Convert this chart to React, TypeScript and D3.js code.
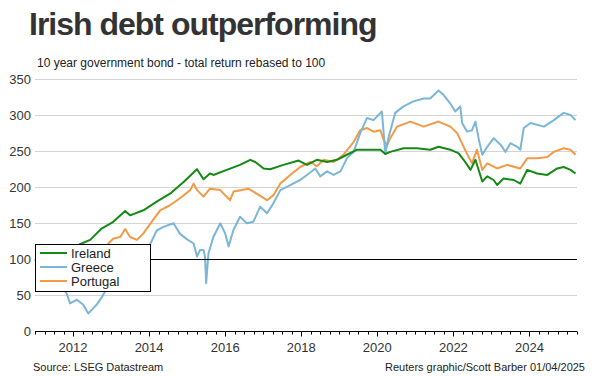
import React from "react";
import * as d3 from "d3";

// ---- Data (decimal years, total return index rebased to 100) ----
const irelandYears = [2011.0, 2011.2, 2011.45, 2011.55, 2011.75, 2011.95, 2012.18, 2012.45, 2012.76, 2013.06, 2013.37, 2013.5, 2013.85, 2014.2, 2014.55, 2014.9, 2015.26, 2015.43, 2015.6, 2015.69, 2016.04, 2016.39, 2016.66, 2016.79, 2017.01, 2017.18, 2017.53, 2017.93, 2018.15, 2018.41, 2018.68, 2018.94, 2019.2, 2019.47, 2019.73, 2020.08, 2020.21, 2020.34, 2020.69, 2021.04, 2021.39, 2021.61, 2021.92, 2022.14, 2022.27, 2022.45, 2022.58, 2022.76, 2022.89, 2023.06, 2023.15, 2023.32, 2023.59, 2023.76, 2023.94, 2024.2, 2024.47, 2024.73, 2024.9, 2025.08, 2025.21];
const irelandValues = [100, 95, 86, 84, 96, 108, 121, 127, 143, 152, 167, 161, 168, 180, 191, 207, 225, 211, 219, 217, 224, 231, 238, 235, 226, 225, 231, 237, 231, 238, 235, 238, 245, 252, 252, 252, 246, 249, 254, 254, 252, 256, 252, 247, 238, 224, 238, 208, 215, 210, 203, 212, 210, 205, 224, 219, 217, 226, 228, 224, 219];

const greeceYears = [2011.0, 2011.2, 2011.4, 2011.6, 2011.75, 2011.83, 2011.92, 2012.1, 2012.27, 2012.4, 2012.49, 2012.62, 2012.76, 2012.84, 2013.1, 2013.4, 2013.7, 2014.0, 2014.2, 2014.38, 2014.64, 2014.82, 2014.99, 2015.17, 2015.26, 2015.34, 2015.43, 2015.47, 2015.5, 2015.56, 2015.69, 2015.87, 2016.0, 2016.09, 2016.22, 2016.39, 2016.57, 2016.74, 2016.92, 2017.1, 2017.27, 2017.45, 2017.71, 2017.97, 2018.15, 2018.37, 2018.5, 2018.68, 2018.85, 2019.03, 2019.2, 2019.38, 2019.55, 2019.73, 2019.9, 2020.12, 2020.21, 2020.3, 2020.47, 2020.69, 2020.95, 2021.22, 2021.39, 2021.61, 2021.74, 2021.92, 2022.05, 2022.18, 2022.23, 2022.36, 2022.49, 2022.58, 2022.67, 2022.76, 2022.89, 2023.06, 2023.24, 2023.37, 2023.5, 2023.68, 2023.76, 2023.85, 2024.03, 2024.38, 2024.64, 2024.9, 2025.08, 2025.21];
const greeceValues = [100, 92, 80, 70, 60, 53, 39, 44, 37, 25, 30, 37, 48, 55, 75, 95, 108, 118, 140, 145, 150, 135, 128, 122, 104, 113, 113, 104, 67, 108, 131, 150, 136, 118, 141, 159, 150, 152, 173, 164, 178, 196, 203, 210, 217, 226, 215, 222, 217, 222, 240, 249, 275, 296, 293, 305, 247, 270, 303, 312, 319, 323, 323, 334, 328, 316, 305, 312, 289, 277, 279, 291, 266, 245, 256, 268, 259, 249, 261, 256, 252, 282, 289, 284, 293, 303, 300, 293];

const portugalYears = [2011.0, 2011.25, 2011.5, 2011.75, 2012.0, 2012.25, 2012.5, 2012.75, 2012.93, 2013.06, 2013.24, 2013.37, 2013.5, 2013.68, 2013.85, 2014.11, 2014.29, 2014.55, 2014.82, 2015.08, 2015.17, 2015.26, 2015.43, 2015.6, 2015.87, 2016.13, 2016.22, 2016.61, 2016.74, 2017.1, 2017.27, 2017.45, 2017.71, 2017.97, 2018.24, 2018.41, 2018.59, 2018.85, 2019.11, 2019.38, 2019.55, 2019.73, 2019.9, 2020.08, 2020.17, 2020.26, 2020.34, 2020.52, 2020.87, 2021.22, 2021.61, 2021.92, 2022.1, 2022.27, 2022.4, 2022.49, 2022.62, 2022.76, 2022.89, 2023.15, 2023.41, 2023.76, 2023.94, 2024.2, 2024.47, 2024.64, 2024.9, 2025.08, 2025.21];
const portugalValues = [100, 95, 84, 74, 66, 74, 88, 104, 122, 129, 131, 142, 131, 127, 136, 155, 168, 175, 185, 196, 205, 196, 187, 198, 196, 182, 194, 198, 194, 182, 189, 205, 217, 228, 235, 229, 238, 235, 245, 263, 279, 282, 277, 279, 265, 258, 268, 284, 291, 284, 291, 284, 275, 256, 242, 233, 252, 224, 233, 226, 231, 226, 240, 240, 242, 249, 254, 252, 245];

const seriesNames = ["Ireland", "Greece", "Portugal"];
const seriesColors = ["#148a14", "#7bb6d6", "#f39a47"];
const yTicks = [0, 50, 100, 150, 200, 250, 300, 350];
const xLabelYears = [2012, 2014, 2016, 2018, 2020, 2022, 2024];

const title = "Irish debt outperforming";
const subtitle = "10 year government bond - total return rebased to 100";
const sourceText = "Source: LSEG Datastream";
const creditText = "Reuters graphic/Scott Barber 01/04/2025";

export default function App() {
  const W = 600, H = 376;
  const left = 35, right = 577, top = 79, bottom = 331.5;
  const x = d3.scaleLinear().domain([2011, 2025.25]).range([left, right]);
  const y = d3.scaleLinear().domain([0, 350]).range([bottom, top]);

  const series = [
    { name: seriesNames[0], color: seriesColors[0], years: irelandYears, values: irelandValues },
    { name: seriesNames[1], color: seriesColors[1], years: greeceYears, values: greeceValues },
    { name: seriesNames[2], color: seriesColors[2], years: portugalYears, values: portugalValues },
  ];
  const line = d3.line<[number, number]>().x((d) => x(d[0])).y((d) => y(d[1]));

  const quarterTicks = d3.range(2011, 2025.26, 0.25);
  const drawOrder = [2, 1, 0];
  const font = "'Liberation Sans', Arial, sans-serif";

  return (
    <svg width={W} height={H} style={{ position: "absolute", left: 0, top: 0, background: "#fff" }} fontFamily={font}>
      <rect width={W} height={H} fill="#fff" />
      <text x={29} y={35} fontSize={32} fontWeight="bold" fill="#333" letterSpacing={-1}>{title}</text>
      <text x={37} y={67} fontSize={12} fill="#222">{subtitle}</text>

      {yTicks.filter((t) => t !== 0 && t !== 100).map((t) => (
        <line key={"g" + t} x1={left} x2={right} y1={Math.round(y(t)) + 0.5} y2={Math.round(y(t)) + 0.5} stroke="#d4d4d4" strokeWidth={1} />
      ))}
      {yTicks.map((t) => (
        <text key={"yl" + t} x={31} y={y(t)} dy="0.35em" textAnchor="end" fontSize={13} fill="#333">{t}</text>
      ))}

      {drawOrder.map((i) => {
        const s = series[i];
        const pts = s.years.map((yr, j) => [yr, s.values[j]] as [number, number]);
        return <path key={s.name} d={line(pts) || ""} fill="none" stroke={s.color} strokeWidth={2} strokeLinejoin="round" />;
      })}

      <line x1={left} x2={right} y1={Math.round(y(100)) + 0.5} y2={Math.round(y(100)) + 0.5} stroke="#000" strokeWidth={1} />

      {/* x axis */}
      <line x1={left} x2={right} y1={bottom} y2={bottom} stroke="#000" strokeWidth={1} />
      {quarterTicks.map((q) => {
        const major = xLabelYears.includes(q);
        const px = Math.round(x(q)) + 0.5;
        return <line key={"t" + q} x1={px} x2={px} y1={bottom} y2={bottom + (major ? 5 : 3)} stroke="#000" strokeWidth={1} />;
      })}
      {xLabelYears.map((yr) => (
        <text key={"xl" + yr} x={x(yr)} y={352} textAnchor="middle" fontSize={13} fill="#333">{yr}</text>
      ))}

      {/* legend */}
      <rect x={35.5} y={244.5} width={115} height={47} fill="#fff" stroke="#000" strokeWidth={1} />
      {series.map((s, i) => (
        <g key={"lg" + s.name}>
          <line x1={40} x2={67} y1={253 + i * 14} y2={253 + i * 14} stroke={s.color} strokeWidth={2} />
          <text x={71} y={253 + i * 14} dy="0.35em" fontSize={13} fill="#222">{s.name}</text>
        </g>
      ))}

      <text x={33} y={371} fontSize={11} fill="#222">{sourceText}</text>
      <text x={585} y={371} fontSize={11} textAnchor="end" fill="#222">{creditText}</text>
    </svg>
  );
}
